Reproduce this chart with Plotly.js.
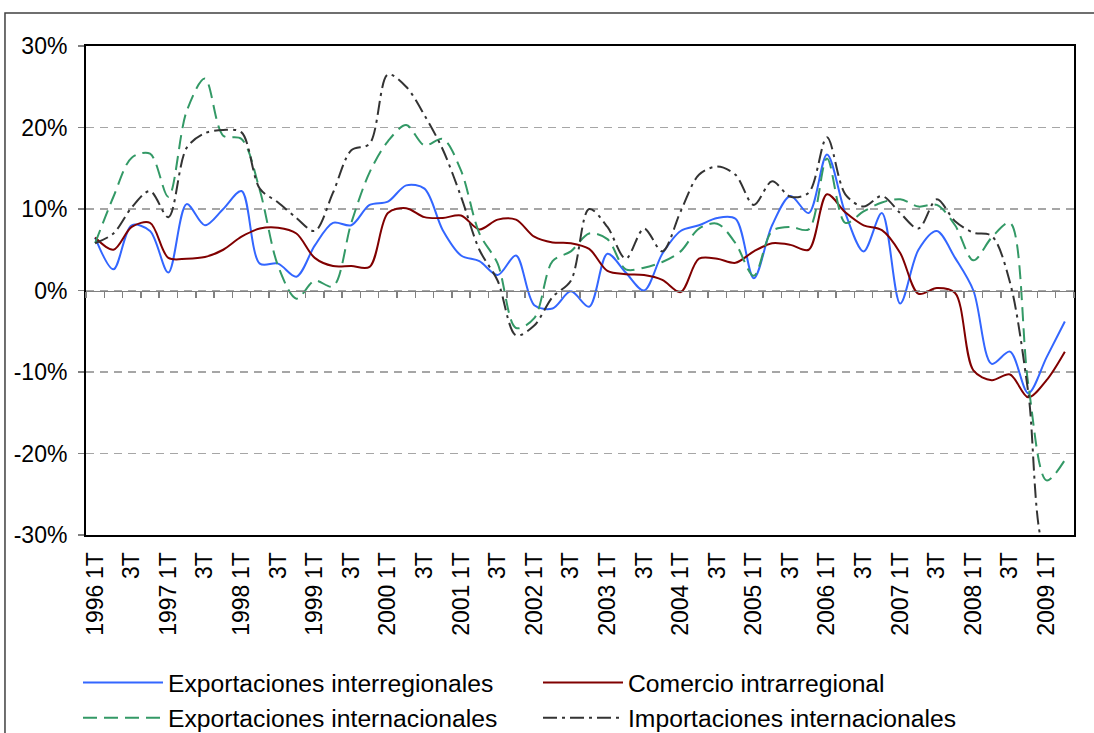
<!DOCTYPE html>
<html>
<head>
<meta charset="utf-8">
<script src="https://cdn.plot.ly/plotly-3.0.1.min.js"></script>
<style>
html,body{margin:0;padding:0;background:#fff;}
#chart{width:1094px;height:733px;}
</style>
</head>
<body>
<div id="chart"></div>
<script>
// Quarterly categories
const categories = [
  "1996 1T","1996 2T","1996 3T","1996 4T",
  "1997 1T","1997 2T","1997 3T","1997 4T",
  "1998 1T","1998 2T","1998 3T","1998 4T",
  "1999 1T","1999 2T","1999 3T","1999 4T",
  "2000 1T","2000 2T","2000 3T","2000 4T",
  "2001 1T","2001 2T","2001 3T","2001 4T",
  "2002 1T","2002 2T","2002 3T","2002 4T",
  "2003 1T","2003 2T","2003 3T","2003 4T",
  "2004 1T","2004 2T","2004 3T","2004 4T",
  "2005 1T","2005 2T","2005 3T","2005 4T",
  "2006 1T","2006 2T","2006 3T","2006 4T",
  "2007 1T","2007 2T","2007 3T","2007 4T",
  "2008 1T","2008 2T","2008 3T","2008 4T",
  "2009 1T","2009 2T"
];

// Tick labels
const quarterLabels = ["1T","3T","1T","3T","1T","3T","1T","3T","1T","3T","1T","3T","1T","3T",
                       "1T","3T","1T","3T","1T","3T","1T","3T","1T","3T","1T","3T","1T"];
const yearLabels = ["1996","1997","1998","1999","2000","2001","2002","2003","2004","2005","2006","2007","2008","2009"];
const yTickValues = [-30, -20, -10, 0, 10, 20, 30];
const yTickLabels = ["-30%", "-20%", "-10%", "0%", "10%", "20%", "30%"];

// Series (% year-on-year)
const exportInterregional = [
  6.5, 2.6, 8.0, 7.3, 2.2, 10.6, 8.0, 10.0, 12.2, 3.3, 3.3, 1.7, 5.5, 8.3,
  8.0, 10.5, 10.9, 12.9, 12.5, 7.4, 4.3, 3.6, 1.9, 4.3, -1.8, -2.2, -0.1, -2.0,
  4.5, 2.2, 0.0, 4.5, 7.3, 8.0, 8.9, 8.8, 1.5, 8.0, 11.6, 9.5, 16.7, 9.5,
  4.8, 9.5, -1.6, 5.0, 7.3, 4.0, 0.0, -9.0, -7.5, -12.6, -8.2, -3.8
];
const comercioIntrarregional = [
  6.5, 5.0, 7.8, 8.3, 4.0, 3.9, 4.1, 5.0, 6.6, 7.6, 7.7, 7.0, 4.0, 3.0,
  3.0, 2.9, 9.5, 10.1, 9.0, 8.9, 9.2, 7.5, 8.7, 8.7, 6.6, 5.9, 5.8, 5.1,
  2.4, 2.0, 1.9, 1.3, -0.2, 3.9, 3.9, 3.4, 4.8, 5.8, 5.6, 5.0, 11.8, 9.6,
  8.0, 7.4, 4.6, -0.4, 0.3, -0.3, -9.8, -11.0, -10.3, -13.1, -11.0, -7.5
];
const exportInternacional = [
  5.8, 11.5, 16.3, 16.8, 11.5, 22.0, 26.0, 19.0, 18.6, 12.3, 3.0, -1.0, 1.2, 0.5,
  8.3, 14.5, 18.3, 20.3, 17.8, 18.6, 14.7, 7.0, 3.3, -4.6, -3.4, 3.6, 4.8, 7.0,
  6.3, 2.6, 2.8, 3.5, 4.8, 7.6, 8.2, 5.8, 1.8, 7.3, 7.8, 7.5, 16.2, 8.3,
  9.7, 10.8, 11.2, 10.3, 10.5, 8.0, 3.7, 6.5, 8.3, -11.5, -23.3, -20.8
];
const importInternacional = [
  5.8, 7.0, 10.2, 12.2, 9.0, 17.5, 19.3, 19.7, 19.4, 12.5, 10.8, 8.9, 7.3, 12.0,
  17.2, 18.0, 26.5, 25.0, 21.5, 17.3, 11.5, 5.0, 1.2, -5.5, -4.3, -0.8, 1.2, 10.0,
  7.8, 3.9, 7.6, 4.8, 9.7, 14.2, 15.2, 14.2, 10.5, 13.4, 11.5, 12.0, 18.8, 11.8,
  10.3, 11.6, 9.5, 7.6, 11.2, 8.5, 7.1, 6.7, 1.0, -12.5, -32.0, -31.0
];

const seriesNames = ["Exportaciones interregionales","Comercio intrarregional",
                     "Exportaciones internacionales","Importaciones internacionales"];

const FONT = '"Liberation Sans", Arial, sans-serif';
const nCat = categories.length;
const catRange = [-0.5, nCat - 0.5];

function mk(y, name, color, dash){
  return {
    type: 'scatter', mode: 'lines', x: categories, y: y, name: name,
    line: {color: color, width: 2, dash: dash, shape: 'spline', smoothing: 0.9},
    hoverinfo: 'x+y+name'
  };
}

const traces = [
  mk(exportInterregional, seriesNames[0], '#3366FF', 'solid'),
  mk(comercioIntrarregional, seriesNames[1], '#800000', 'solid'),
  mk(exportInternacional, seriesNames[2], '#339966', '14px,7px'),
  mk(importInternacional, seriesNames[3], '#333333', '14px,5px,3px,5px')
];

// boundary tick positions for the zero-line axis (between categories)
const boundaryTicks = [];
for (let i = 0; i <= nCat; i++) boundaryTicks.push(i - 0.5);
const yearTicks = yearLabels.map((y, k) => k * 4);

const layout = {
  width: 1094, height: 733,
  margin: {l: 86, r: 20, t: 46, b: 198},
  paper_bgcolor: '#ffffff', plot_bgcolor: '#ffffff',
  font: {family: FONT, color: '#000000', size: 23},
  showlegend: true,
  legend: {
    orientation: 'h', xref: 'container', yref: 'container',
    x: 0.0713, xanchor: 'left', y: 0.0996, yanchor: 'top',
    entrywidth: 365, entrywidthmode: 'pixels', itemwidth: 80,
    font: {family: FONT, size: 24.7, color: '#000'},
    bgcolor: 'rgba(0,0,0,0)', tracegroupgap: 0
  },
  xaxis: {
    type: 'category', categoryorder: 'array', categoryarray: categories,
    range: catRange, showgrid: false, zeroline: false,
    showline: true, mirror: true, linecolor: '#000', linewidth: 2,
    ticks: '', tickmode: 'array',
    tickvals: categories.filter((c, i) => i % 2 === 0),
    ticktext: quarterLabels,
    tickangle: -90, ticklabelstandoff: 6,
    tickfont: {family: FONT, size: 23, color: '#000'}
  },
  xaxis2: {
    type: 'linear', overlaying: 'x', anchor: 'free', position: 0.5,
    range: catRange, showgrid: false, zeroline: false,
    showline: true, linecolor: '#808080', linewidth: 1.5,
    ticks: 'outside', ticklen: 6, tickwidth: 1.5, tickcolor: '#808080',
    tickmode: 'array', tickvals: boundaryTicks, showticklabels: false
  },
  xaxis3: {
    type: 'linear', overlaying: 'x', anchor: 'y', side: 'bottom',
    range: catRange, showgrid: false, zeroline: false, showline: false,
    ticks: '', tickmode: 'array', tickvals: yearTicks, ticktext: yearLabels,
    tickangle: -90, ticklabelstandoff: 44,
    tickfont: {family: FONT, size: 23, color: '#000'}
  },
  yaxis: {
    range: [-30, 30], tickmode: 'array', tickvals: yTickValues, ticktext: yTickLabels,
    showgrid: true, gridcolor: '#A6A6A6', gridwidth: 1.5, griddash: '8px,6px',
    zeroline: false,
    showline: true, mirror: true, linecolor: '#000', linewidth: 2,
    ticks: 'outside', ticklen: 6, tickwidth: 1.5, tickcolor: '#808080',
    ticklabelstandoff: 6,
    tickfont: {family: FONT, size: 23, color: '#000'}
  },
  shapes: [{
    type: 'rect', xref: 'paper', yref: 'paper', layer: 'below',
    x0: -0.082, x1: 1.05, y0: -0.6, y1: 1.0675,
    line: {color: '#404040', width: 1.5}, fillcolor: 'rgba(0,0,0,0)'
  }]
};

// helper traces to attach overlay axes (no visible marks)
traces.push({type: 'scatter', mode: 'lines', x: [0], y: [null], xaxis: 'x2', yaxis: 'y', showlegend: false, hoverinfo: 'skip'});
traces.push({type: 'scatter', mode: 'lines', x: [0], y: [null], xaxis: 'x3', yaxis: 'y', showlegend: false, hoverinfo: 'skip'});

Plotly.newPlot('chart', traces, layout, {displayModeBar: false, staticPlot: true});
</script>
</body>
</html>
